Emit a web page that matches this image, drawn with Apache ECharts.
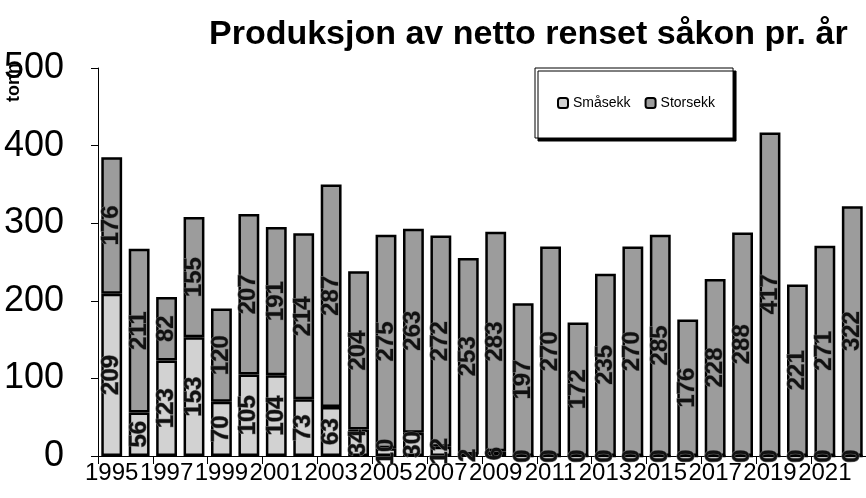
<!DOCTYPE html>
<html><head><meta charset="utf-8">
<script src="https://cdn.jsdelivr.net/npm/echarts@6/dist/echarts.min.js"></script>
<style>html,body{margin:0;padding:0;background:#fff}#c{width:866px;height:498px}</style>
</head><body><div id="c"></div>
<script>
var years = ['1995','1996','1997','1998','1999','2000','2001','2002','2003','2004','2005','2006','2007','2008','2009','2010','2011','2012','2013','2014','2015','2016','2017','2018','2019','2020','2021','2022'];
var smaasekk = [209,56,123,153,70,105,104,73,63,34,10,30,12,2,6,0,0,0,0,0,0,0,0,0,0,0,0,0];
var storsekk = [176,211,82,155,120,207,191,214,287,204,275,263,272,253,283,197,270,172,235,270,285,176,228,288,417,221,271,322];
var yTicks = [0,100,200,300,400,500];

var chart = echarts.init(document.getElementById('c'));
var lbl = {show:true, position:'inside', rotate:90, fontSize:24, fontWeight:'bold', fontFamily:'Liberation Sans', color:'#111', textBorderColor:'#777', textBorderWidth:1};
chart.setOption({
  animation:false,
  title:{text:'Produksjon av netto renset såkon pr. år', left:204, top:13, textStyle:{fontFamily:'Liberation Sans', fontSize:34, fontWeight:'bold', color:'#000'}},
  legend:{data:['Småsekk','Storsekk'], left:535, top:68, orient:'horizontal', padding:[28,18,28,22], itemWidth:10, itemHeight:10, itemGap:14,
    borderColor:'#000', borderWidth:1, backgroundColor:'#fff', shadowColor:'#000', shadowOffsetX:3, shadowOffsetY:3, shadowBlur:0,
    textStyle:{fontFamily:'Liberation Sans', fontSize:14, color:'#000'}},
  grid:{left:98, right:-8, top:68, bottom:42},
  graphic:[{type:'text', x:5, y:102, rotation:Math.PI/2, style:{text:'tonn', font:'bold 18px "Liberation Sans"', fill:'#000'}}],
  xAxis:{type:'category', data:years, axisLine:{lineStyle:{color:'#000', width:1}},
    axisTick:{show:true, interval:1, length:8, lineStyle:{color:'#000'}},
    axisLabel:{interval:1, hideOverlap:false, showMinLabel:true, fontFamily:'Liberation Sans', fontSize:24, color:'#000', margin:5}},
  yAxis:{type:'value', min:0, max:500, interval:100, splitLine:{show:false},
    axisLine:{show:true, lineStyle:{color:'#000'}}, axisTick:{show:true, length:7, lineStyle:{color:'#000'}},
    axisLabel:{fontFamily:'Liberation Sans', fontSize:36, color:'#000', margin:34,
      formatter:function(v){return yTicks.indexOf(v)>=0 ? String(v) : '';}}},
  series:[
    {name:'Småsekk', type:'bar', stack:'a', data:smaasekk, barWidth:'76%',
      itemStyle:{color:'#d2d2d2', borderColor:'#000', borderWidth:2.5}, label:lbl},
    {name:'Storsekk', type:'bar', stack:'a', data:storsekk, barWidth:'76%',
      itemStyle:{color:'#9c9c9c', borderColor:'#000', borderWidth:2.5}, label:lbl}
  ]
});
</script></body></html>
